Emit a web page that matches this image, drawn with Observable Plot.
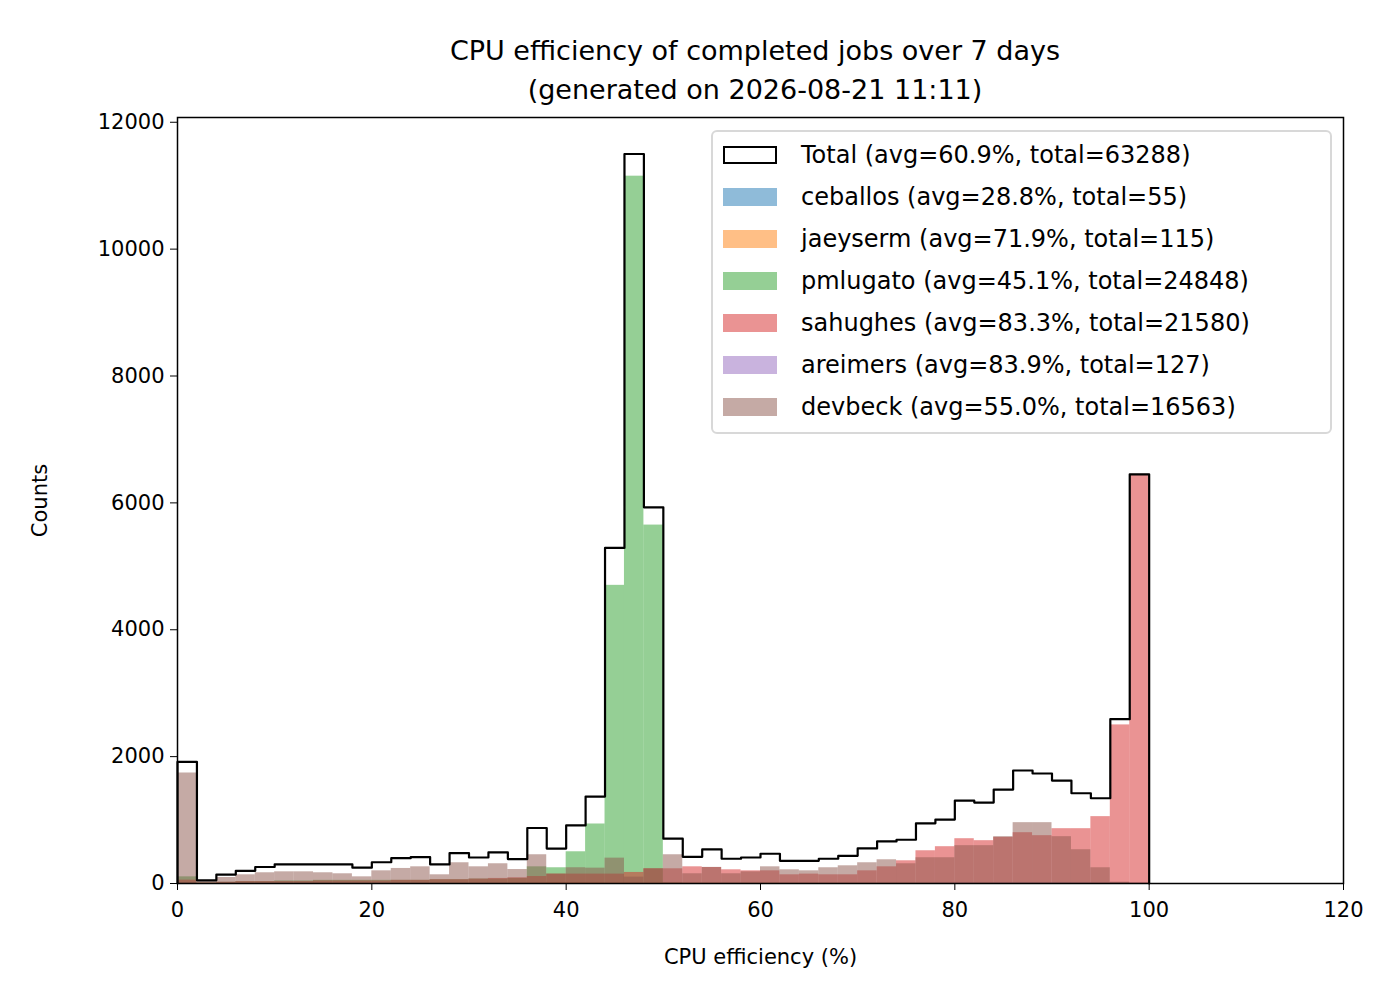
<!DOCTYPE html>
<html><head><meta charset="utf-8">
<script src="https://cdn.jsdelivr.net/npm/d3@7"></script>
<script src="https://cdn.jsdelivr.net/npm/@observablehq/plot@0.6"></script>
<style>
body{margin:0;background:#fff;font-family:"DejaVu Sans",sans-serif;}
#wrap{position:relative;width:1400px;height:1000px;}
#title{position:absolute;left:167px;width:1176px;top:31px;text-align:center;font-size:27px;line-height:39px;}
#legend{position:absolute;left:711px;top:130px;width:617px;height:300px;border:2px solid #d8d8d8;border-radius:6px;background:rgba(255,255,255,0.8);font-size:24px;}
.row{position:absolute;left:10px;height:30px;display:flex;align-items:center;}
.sw{width:54px;height:18px;margin-right:24px;box-sizing:border-box;}
</style></head><body>
<div id="wrap"><div id="chart"></div>
<div id="title">CPU efficiency of completed jobs over 7 days<br>(generated on 2026-08-21 11:11)</div>
<div id="legend"></div></div>
<script>
const binEdges = d3.range(0, 102, 2);
const total = [1916,50,140,200,260,300,300,300,300,250,335,400,415,300,480,410,490,385,875,550,915,1370,5290,11500,5930,706,420,537,390,410,469,358,358,390,437,553,664,690,949,1007,1307,1275,1481,1781,1734,1623,1423,1344,2590,6450];
const ceballos = [10,0,2,2,3,2,2,2,1,1,1,1,0,1,1,1,1,1,1,1,1,1,0,0,0,1,1,1,1,1,1,0,0,0,0,0,0,0,0,1,1,1,1,1,1,1,1,1,1,1];
const jaeyserm = [2,0,0,0,0,0,0,0,0,0,0,0,0,0,0,1,1,2,5,10,10,8,5,5,5,3,3,3,2,2,2,2,2,2,2,2,2,2,2,2,2,3,3,3,3,3,3,3,3,5];
const pmlugato = [105,10,20,30,30,40,40,50,50,50,50,50,50,60,60,70,70,80,263,248,500,938,4700,11150,5650,10,5,5,5,5,5,5,5,5,5,5,5,5,5,5,5,5,5,5,5,5,5,5,5,5];
const sahughes = [53,10,20,30,30,30,30,40,40,40,40,50,50,60,60,70,80,90,110,148,148,148,148,174,232,232,263,253,216,200,200,137,148,137,137,200,263,358,516,580,706,675,727,801,754,864,864,1054,2500,6450];
const areimers = [2,0,0,0,0,0,0,0,0,0,0,0,0,0,0,0,0,0,0,0,0,0,0,0,0,0,0,0,1,1,1,1,1,1,2,2,3,3,4,5,6,6,7,8,8,8,7,6,5,5];
const devbeck = [1742,30,95,137,169,184,184,169,153,105,200,237,263,137,327,263,311,220,453,148,248,242,400,100,232,453,153,253,153,184,263,216,200,248,279,327,374,311,406,406,596,596,738,959,959,738,532,248,20,0];

const names = ["ceballos","jaeyserm","pmlugato","sahughes","areimers","devbeck"];
const series = [ceballos,jaeyserm,pmlugato,sahughes,areimers,devbeck];
const colors = ["#1f77b4","#ff7f0e","#2ca02c","#d62728","#9467bd","#8c564b"];
const labels = ["Total (avg=60.9%, total=63288)","ceballos (avg=28.8%, total=55)","jaeyserm (avg=71.9%, total=115)","pmlugato (avg=45.1%, total=24848)","sahughes (avg=83.3%, total=21580)","areimers (avg=83.9%, total=127)","devbeck (avg=55.0%, total=16563)"];

const marks = [];
series.forEach((s,k)=>{
  const rows = s.map((v,i)=>({x1:binEdges[i],x2:binEdges[i+1],y:v}));
  marks.push(Plot.rectY(rows,{x1:"x1",x2:"x2",y:"y",fill:colors[k],fillOpacity:0.5,inset:0}));
});
const outline = [{x:0,y:0}].concat(total.map((v,i)=>({x:binEdges[i],y:v})),[{x:100,y:total[total.length-1]},{x:100,y:0}]);
marks.push(Plot.line(outline,{x:"x",y:"y",curve:"step-after",stroke:"black",strokeWidth:2.2}));
marks.push(Plot.frame({stroke:"black",strokeWidth:1.5}));

const chart = Plot.plot({
  width:1400,height:1000,
  marginLeft:177,marginRight:57,marginTop:117,marginBottom:117,
  style:{fontFamily:"DejaVu Sans",fontSize:"21px",background:"white",color:"black"},
  x:{domain:[0,120],ticks:d3.range(0,121,20),tickSize:7,tickPadding:12,tickFormat:d3.format("d"),label:"CPU efficiency (%)",labelAnchor:"center",labelOffset:80,labelArrow:"none"},
  y:{domain:[0,12075],ticks:d3.range(0,12001,2000),tickSize:7,tickPadding:6,tickFormat:d3.format("d"),label:"Counts",labelAnchor:"center",labelOffset:145,labelArrow:"none"},
  marks
});
document.getElementById("chart").appendChild(chart);

const leg = document.getElementById("legend");
labels.forEach((t,i)=>{
  const r=document.createElement("div");r.className="row";r.style.top=(8+i*42)+"px";
  const sw=document.createElement("div");sw.className="sw";
  if(i===0){sw.style.border="2px solid black";sw.style.background="white";}
  else{sw.style.background=colors[i-1];sw.style.opacity=0.5;}
  r.appendChild(sw);const sp=document.createElement("span");sp.textContent=t;r.appendChild(sp);
  leg.appendChild(r);
});
</script></body></html>
